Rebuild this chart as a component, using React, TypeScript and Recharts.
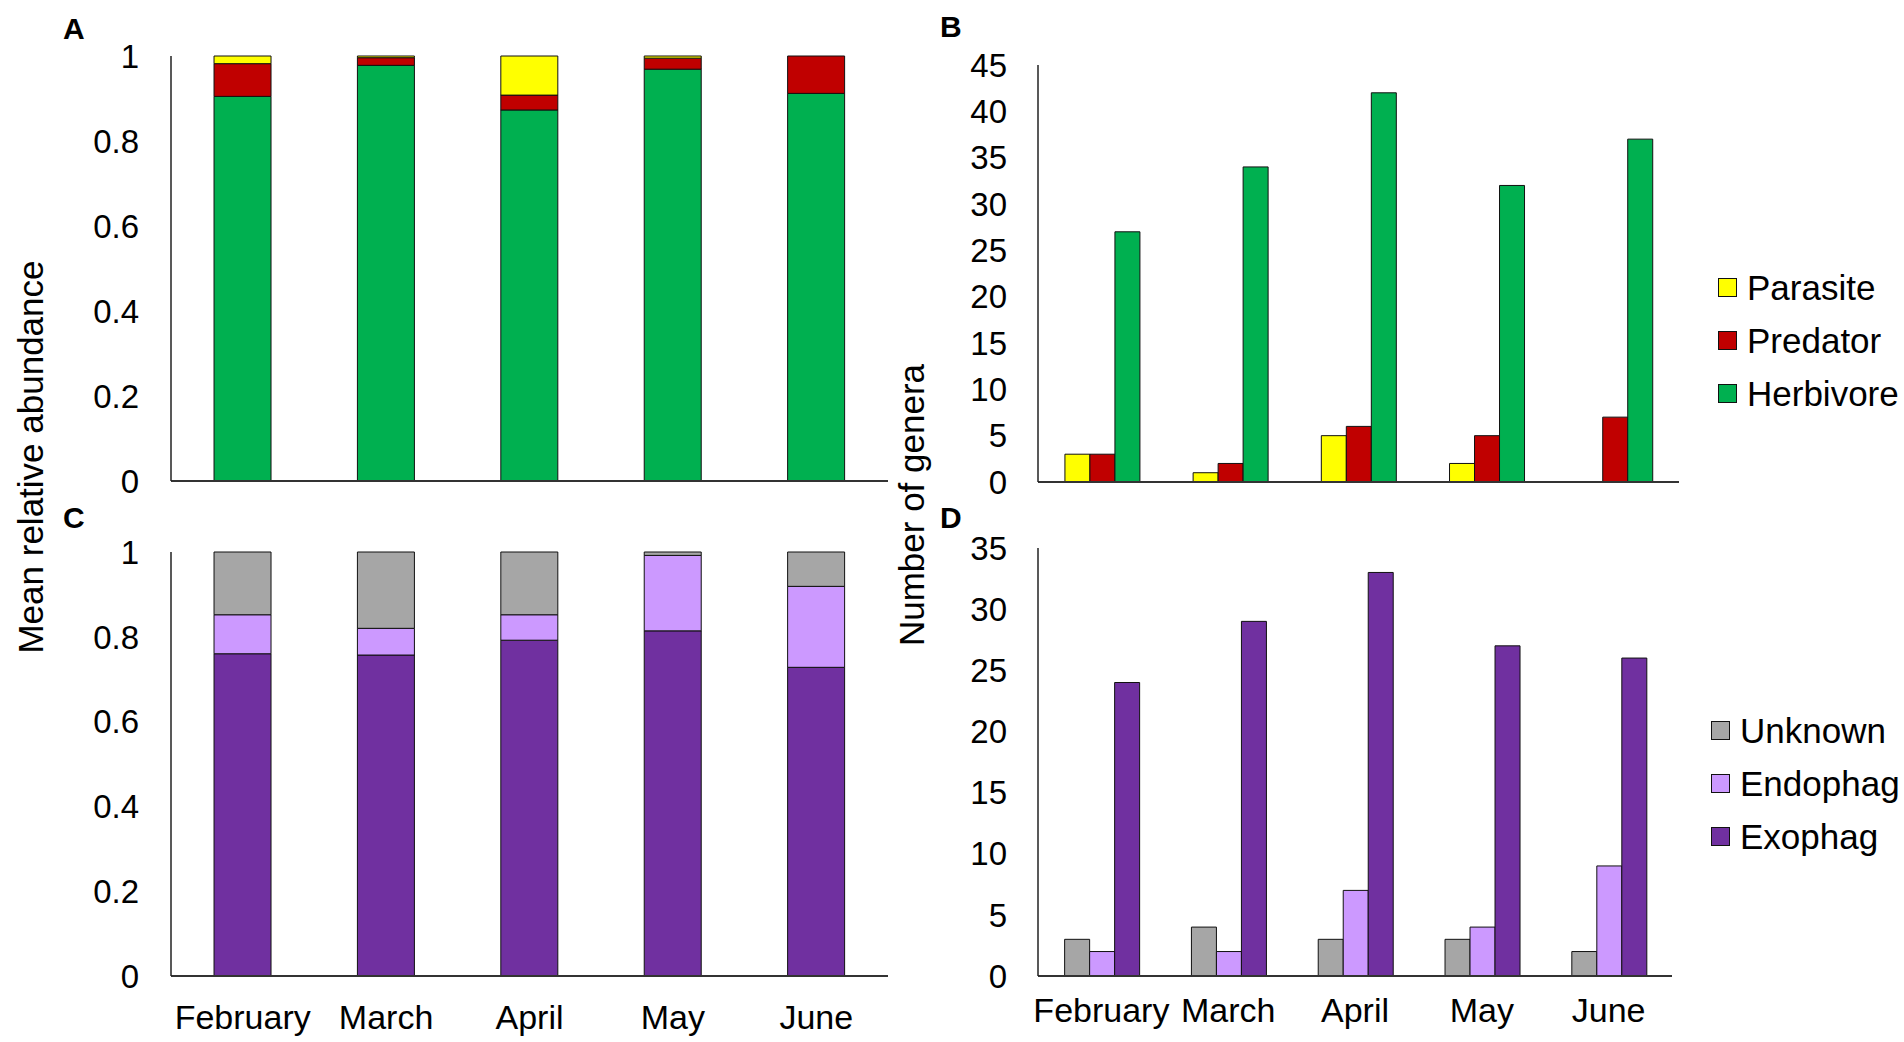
import React from "react";
import { Bar, BarChart, Legend, XAxis, YAxis } from "recharts";

const months = ["February", "March", "April", "May", "June"];

// A: mean relative abundance per guild (stacked to 1)
const herbivoreShare = [0.905, 0.978, 0.873, 0.969, 0.912];
const predatorShare = [0.077, 0.018, 0.035, 0.026, 0.088];
const parasiteShare = [0.018, 0.004, 0.092, 0.005, 0];

// B: number of genera per guild
const parasiteGenera = [3, 1, 5, 2, 0];
const predatorGenera = [3, 2, 6, 5, 7];
const herbivoreGenera = [27, 34, 42, 32, 37];

// C: mean relative abundance per feeding mode
const exophagShare = [0.76, 0.757, 0.792, 0.814, 0.728];
const endophagShare = [0.092, 0.063, 0.06, 0.178, 0.191];
const unknownShare = [0.148, 0.18, 0.148, 0.008, 0.081];

// D: number of genera per feeding mode
const unknownGenera = [3, 4, 3, 3, 2];
const endophagGenera = [2, 2, 7, 4, 9];
const exophagGenera = [24, 29, 33, 27, 26];

const shareTicks = [0, 0.2, 0.4, 0.6, 0.8, 1];
const guildTicks = [0, 5, 10, 15, 20, 25, 30, 35, 40, 45];
const modeTicks = [0, 5, 10, 15, 20, 25, 30, 35];

const YELLOW = "#FFFF00";
const RED = "#C00000";
const GREEN = "#00B050";
const GREY = "#A6A6A6";
const LILAC = "#CC99FF";
const PURPLE = "#7030A0";

const FONT = '"Liberation Sans", Arial, sans-serif';
const tickStyle = { fill: "#000", fontSize: 33, fontFamily: FONT };
const monthStyle = { fill: "#000", fontSize: 34, fontFamily: FONT };

const guildShares = months.map((m, i) => ({
  month: m,
  herbivore: herbivoreShare[i],
  predator: predatorShare[i],
  parasite: parasiteShare[i],
}));
const guildCounts = months.map((m, i) => ({
  month: m,
  parasite: parasiteGenera[i],
  predator: predatorGenera[i],
  herbivore: herbivoreGenera[i],
}));
const modeShares = months.map((m, i) => ({
  month: m,
  exophag: exophagShare[i],
  endophag: endophagShare[i],
  unknown: unknownShare[i],
}));
const modeCounts = months.map((m, i) => ({
  month: m,
  unknown: unknownGenera[i],
  endophag: endophagGenera[i],
  exophag: exophagGenera[i],
}));

type Item = { name: string; color: string };

function SideLegend({ items }: { items: Item[] }) {
  return (
    <div style={{ fontFamily: FONT }}>
      {items.map((it) => (
        <div
          key={it.name}
          style={{ display: "flex", alignItems: "center", height: 53 }}
        >
          <span
            style={{
              display: "inline-block",
              width: 19,
              height: 19,
              boxSizing: "border-box",
              background: it.color,
              border: "1.5px solid #111",
              marginRight: 10,
            }}
          />
          <span style={{ fontSize: 35, color: "#000", lineHeight: "53px" }}>
            {it.name}
          </span>
        </div>
      ))}
    </div>
  );
}

const guildItems = [
  { name: "Parasite", color: YELLOW },
  { name: "Predator", color: RED },
  { name: "Herbivore", color: GREEN },
];
const modeItems = [
  { name: "Unknown", color: GREY },
  { name: "Endophag", color: LILAC },
  { name: "Exophag", color: PURPLE },
];

const yAxisLine = { stroke: "#222", strokeWidth: 1.5 };
const xAxisLine = { stroke: "#333", strokeWidth: 2 };

export default function App() {
  return (
    <div
      style={{
        position: "absolute",
        left: 0,
        top: 0,
        width: 1904,
        height: 1042,
        background: "#fff",
        fontFamily: FONT,
      }}
    >
      {/* A */}
      <div style={{ position: "absolute", left: 0, top: 0 }}>
        <BarChart
          width={900}
          height={500}
          data={guildShares}
          margin={{ top: 56, right: 12, bottom: 18, left: 0 }}
          barCategoryGap="30%"
        >
          <XAxis
            dataKey="month"
            tick={false}
            tickLine={false}
            height={1}
            axisLine={xAxisLine}
          />
          <YAxis
            width={171}
            domain={[0, 1]}
            ticks={shareTicks}
            interval={0}
            tickLine={false}
            tickSize={0}
            tickMargin={32}
            axisLine={yAxisLine}
            tick={tickStyle}
          />
          <Bar dataKey="herbivore" stackId="a" fill={GREEN} stroke="#111" strokeWidth={1} isAnimationActive={false} />
          <Bar dataKey="predator" stackId="a" fill={RED} stroke="#111" strokeWidth={1} isAnimationActive={false} />
          <Bar dataKey="parasite" stackId="a" fill={YELLOW} stroke="#111" strokeWidth={1} isAnimationActive={false} />
        </BarChart>
      </div>

      {/* B */}
      <div style={{ position: "absolute", left: 900, top: 0 }}>
        <BarChart
          width={1004}
          height={500}
          data={guildCounts}
          margin={{ top: 65, right: 225, bottom: 17, left: 0 }}
          barCategoryGap="21%"
          barGap={0}
        >
          <XAxis
            dataKey="month"
            tick={false}
            tickLine={false}
            height={1}
            axisLine={xAxisLine}
          />
          <YAxis
            width={138}
            domain={[0, 45]}
            ticks={guildTicks}
            interval={0}
            tickLine={false}
            tickSize={0}
            tickMargin={31}
            axisLine={yAxisLine}
            tick={tickStyle}
          />
          <Legend
            layout="vertical"
            align="center"
            verticalAlign="middle"
            wrapperStyle={{ left: 818, top: 261, width: 190 }}
            content={() => <SideLegend items={guildItems} />}
          />
          <Bar dataKey="parasite" fill={YELLOW} stroke="#111" strokeWidth={1} isAnimationActive={false} />
          <Bar dataKey="predator" fill={RED} stroke="#111" strokeWidth={1} isAnimationActive={false} />
          <Bar dataKey="herbivore" fill={GREEN} stroke="#111" strokeWidth={1} isAnimationActive={false} />
        </BarChart>
      </div>

      {/* C */}
      <div style={{ position: "absolute", left: 0, top: 500 }}>
        <BarChart
          width={900}
          height={542}
          data={modeShares}
          margin={{ top: 52, right: 12, bottom: 6, left: 0 }}
          barCategoryGap="30%"
        >
          <XAxis
            dataKey="month"
            tickLine={false}
            tickSize={0}
            tickMargin={29}
            height={60}
            axisLine={xAxisLine}
            tick={monthStyle}
            interval={0}
          />
          <YAxis
            width={171}
            domain={[0, 1]}
            ticks={shareTicks}
            interval={0}
            tickLine={false}
            tickSize={0}
            tickMargin={32}
            axisLine={yAxisLine}
            tick={tickStyle}
          />
          <Bar dataKey="exophag" stackId="a" fill={PURPLE} stroke="#111" strokeWidth={1} isAnimationActive={false} />
          <Bar dataKey="endophag" stackId="a" fill={LILAC} stroke="#111" strokeWidth={1} isAnimationActive={false} />
          <Bar dataKey="unknown" stackId="a" fill={GREY} stroke="#111" strokeWidth={1} isAnimationActive={false} />
        </BarChart>
      </div>

      {/* D */}
      <div style={{ position: "absolute", left: 900, top: 500 }}>
        <BarChart
          width={1004}
          height={542}
          data={modeCounts}
          margin={{ top: 48, right: 232, bottom: 6, left: 0 }}
          barCategoryGap="21%"
          barGap={0}
        >
          <XAxis
            dataKey="month"
            tickLine={false}
            tickSize={0}
            tickMargin={22}
            height={60}
            axisLine={xAxisLine}
            tick={monthStyle}
            interval={0}
          />
          <YAxis
            width={138}
            domain={[0, 35]}
            ticks={modeTicks}
            interval={0}
            tickLine={false}
            tickSize={0}
            tickMargin={31}
            axisLine={yAxisLine}
            tick={tickStyle}
          />
          <Legend
            layout="vertical"
            align="center"
            verticalAlign="middle"
            wrapperStyle={{ left: 811, top: 204, width: 193 }}
            content={() => <SideLegend items={modeItems} />}
          />
          <Bar dataKey="unknown" fill={GREY} stroke="#111" strokeWidth={1} isAnimationActive={false} />
          <Bar dataKey="endophag" fill={LILAC} stroke="#111" strokeWidth={1} isAnimationActive={false} />
          <Bar dataKey="exophag" fill={PURPLE} stroke="#111" strokeWidth={1} isAnimationActive={false} />
        </BarChart>
      </div>

      {/* panel letters and shared axis titles */}
      <svg
        width={1904}
        height={1042}
        style={{ position: "absolute", left: 0, top: 0, pointerEvents: "none" }}
        fontFamily={FONT}
      >
        <text x={63} y={39} fontSize={30} fontWeight="bold">A</text>
        <text x={940} y={37} fontSize={30} fontWeight="bold">B</text>
        <text x={63} y={528} fontSize={30} fontWeight="bold">C</text>
        <text x={940} y={528} fontSize={30} fontWeight="bold">D</text>
        <text
          x={30}
          y={457}
          fontSize={35}
          textAnchor="middle"
          dominantBaseline="central"
          transform="rotate(-90 30 457)"
        >
          Mean relative abundance
        </text>
        <text
          x={911}
          y={505}
          fontSize={35}
          textAnchor="middle"
          dominantBaseline="central"
          transform="rotate(-90 911 505)"
        >
          Number of genera
        </text>
      </svg>
    </div>
  );
}
